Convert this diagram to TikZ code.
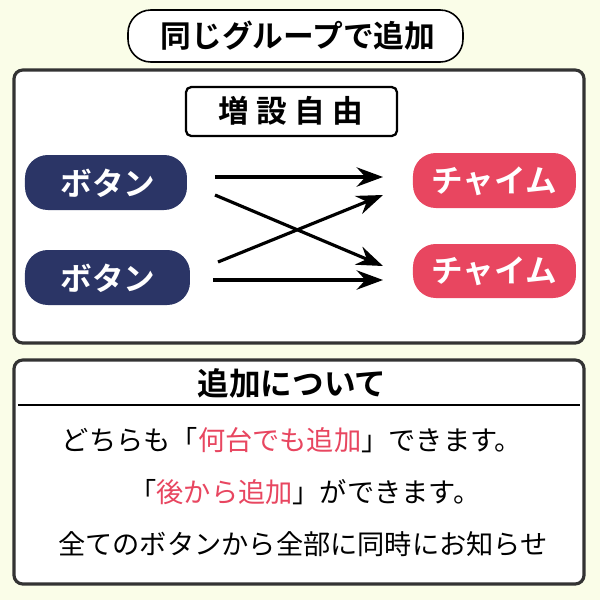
\documentclass[tikz,border=0pt]{standalone}
\usepackage{fontspec}
\setmainfont{Noto Sans CJK JP}
\newfontfamily\jpb{Noto Sans CJK JP Bold}
\definecolor{bg}{HTML}{FAFDE8}
\definecolor{navy}{HTML}{2B3566}
\definecolor{pinkred}{HTML}{E84660}
\definecolor{frame}{HTML}{333333}
\usetikzlibrary{arrows.meta}
\tikzset{
  btn/.style={rounded corners=13pt,fill=#1},
  btext/.style={text=white,font=\jpb\fontsize{18}{18}\selectfont},
  head/.style={font=\jpb\fontsize{17.5}{18}\selectfont},
  arr/.style={-{Stealth[length=15pt,width=11pt,inset=5pt]},line width=1.8pt},
  panel/.style={draw=frame,line width=1.8pt,rounded corners=5pt,fill=white},
  body/.style={font=\fontsize{15.5}{16}\selectfont}
}
\begin{document}
\begin{tikzpicture}[x=0.02cm,y=-0.02cm]
\fill[bg] (0,0) rectangle (600,600);
\useasboundingbox (0,0) rectangle (600,600);
\draw[fill=white,line width=0.9pt,rounded corners=13pt] (128,10) rectangle (463,62);
\node[head] (title) at (298,36) {同じグループで追加};
\draw[panel] (14,70) rectangle (584,343);
\draw[line width=1.3pt,rounded corners=3pt] (186,87) rectangle (397,136);
\node[head] (free) at (291,111) {増\hspace{4pt}設\hspace{4pt}自\hspace{4pt}由};
\fill[btn=navy] (25,155) rectangle (187,210);
\node[btext] (b1) at (108,183) {ボタン};
\fill[btn=navy] (25,250) rectangle (190,305);
\node[btext] (b2) at (108,278) {ボタン};
\fill[btn=pinkred] (413,153) rectangle (576,208);
\node[btext] (c1) at (494,181) {チャイム};
\fill[btn=pinkred] (413,244) rectangle (576,298);
\node[btext] (c2) at (494,271) {チャイム};
\coordinate (s1) at (215,177); \coordinate (e1) at (383,177);
\coordinate (s2) at (215,195); \coordinate (e2) at (383,266);
\coordinate (s3) at (218,262); \coordinate (e3) at (383,195);
\coordinate (s4) at (213,280); \coordinate (e4) at (383,280);
\draw[arr] (s1) -- (e1);
\draw[arr] (s2) -- (e2);
\draw[arr] (s3) -- (e3);
\draw[arr] (s4) -- (e4);
\draw[panel] (14,360) rectangle (584,584);
\draw[line width=1.3pt] (18,405) -- (580,405);
\node[head,font=\jpb\fontsize{18}{18}\selectfont] (about) at (292,383) {追加について};
\node[body] (l1) at (292,440) {どちらも「\textcolor{pinkred}{何台でも追加}」できます。};
\node[body] (l2) at (305,492) {「\textcolor{pinkred}{後から追加}」ができます。};
\node[body] (l3) at (303,544) {全てのボタンから全部に同時にお知らせ};
\end{tikzpicture}
\end{document}
